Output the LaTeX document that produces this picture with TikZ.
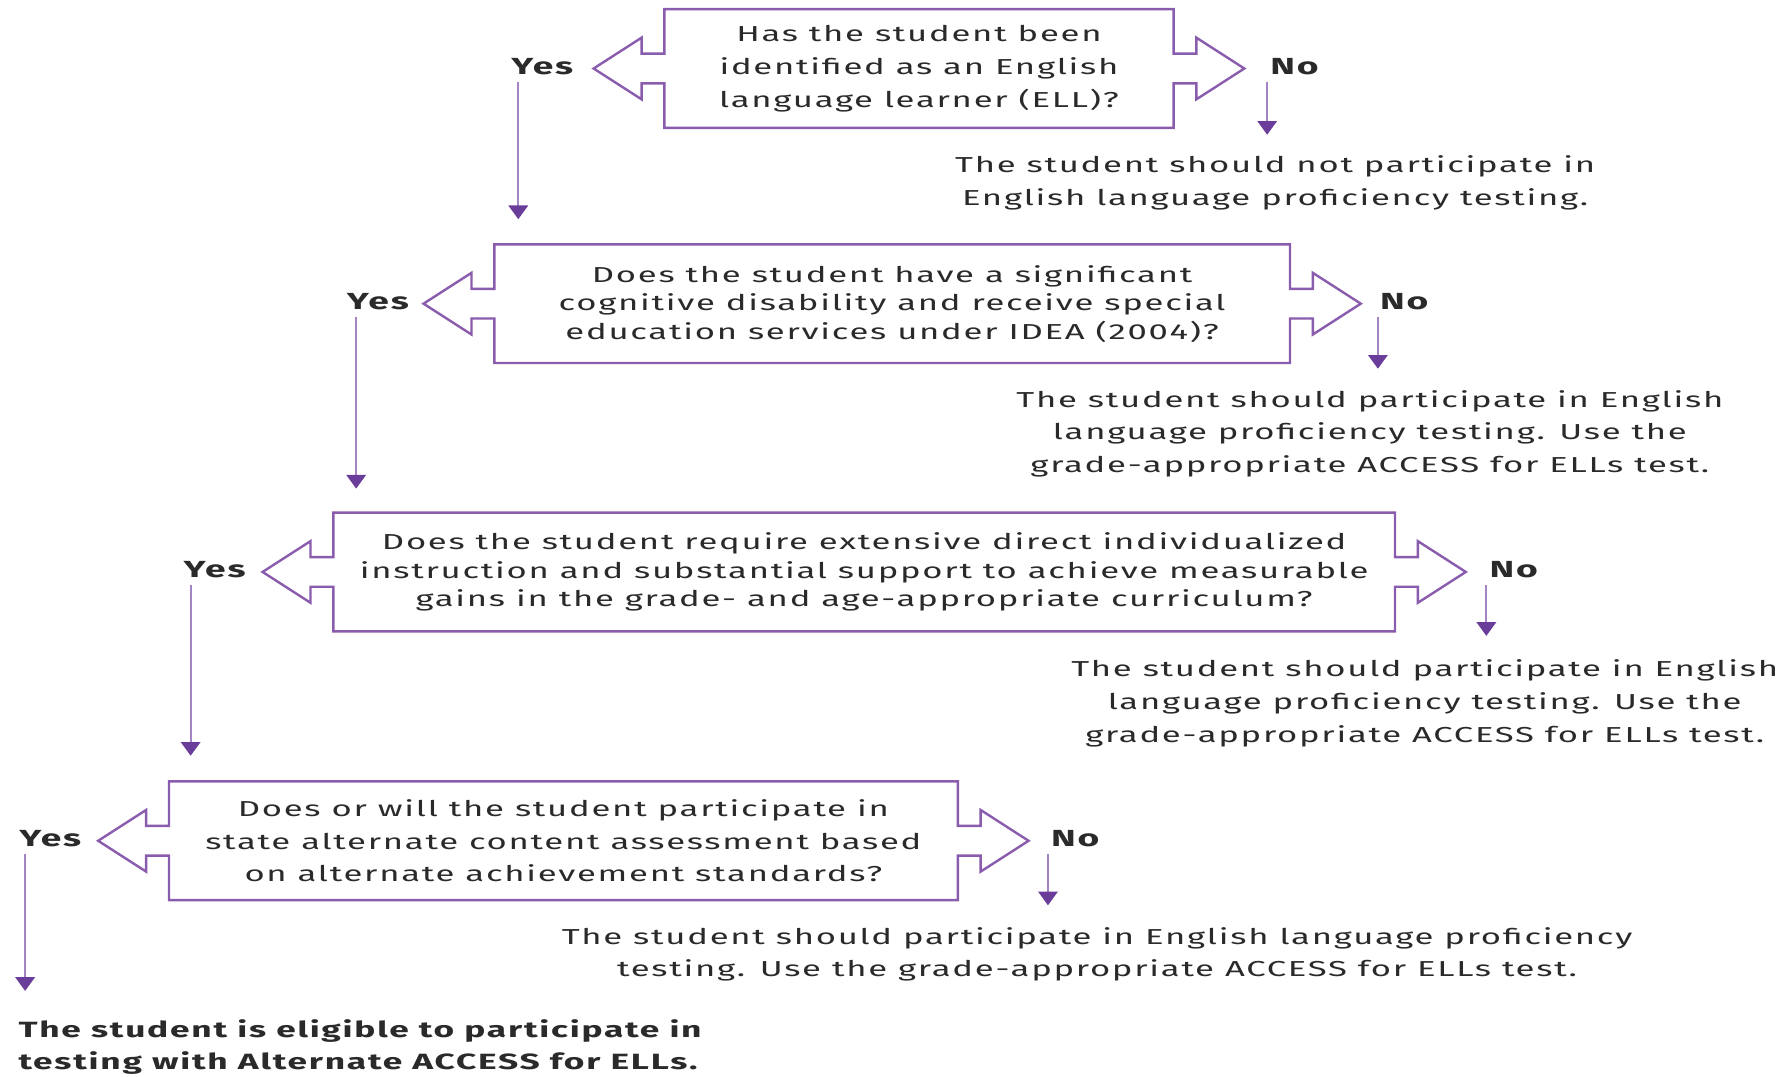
\documentclass[tikz,border=0pt]{standalone}
\usepackage{fontspec}
\setmainfont{Fira Sans}[FakeStretch=1.6,LetterSpace=8]
\usetikzlibrary{arrows.meta}
\definecolor{boxpurple}{HTML}{8A5CAD}
\definecolor{linepurple}{HTML}{A584C4}
\definecolor{headpurple}{HTML}{6A3D9A}
\definecolor{textgray}{HTML}{2A2A2A}
\newcommand{\qoutline}[1]{%
  \draw [qline] (#1.north west) -- (#1.north east) -- ([yshift=2.6mm]#1.east) -- ++(20,0) -- ++(0,14)
    -- ([xshift=12.4mm]#1.east) -- ++(-42,-27) -- ++(0,14) -- ++(-20,0) -- (#1.south east)
    -- (#1.south west) -- ([yshift=-2.6mm]#1.west) -- ++(-20,0) -- ++(0,-14)
    -- ([xshift=-12.4mm]#1.west) -- ++(42,27) -- ++(0,-14) -- ++(20,0) -- cycle;}
\begin{document}
\begin{tikzpicture}[x=0.2mm,y=0.2mm,
                  every node/.style={text=textgray},
                  qbox/.style={inner sep=0pt,outer sep=0pt,minimum height=104*0.2mm,align=center},
                  qline/.style={draw=boxpurple,line width=1.2pt,line join=miter},
                  wide/.style={font=\fontsize{10.8}{16.3}\selectfont},
                  tight/.style={font=\fontsize{10.8}{14.2}\selectfont},
                  ans/.style={font=\fontsize{11.6}{12}\selectfont\bfseries},
                  res/.style={align=center,font=\fontsize{10.8}{16.3}\selectfont},
                  flow/.style={draw=linepurple,line width=1pt,-{Triangle[color=headpurple,width=3.4mm,length=2.4mm]}}]
                  \useasboundingbox (0,0) rectangle (1568,-943);
                  \node [qbox,wide,minimum width=446*0.2mm] (q1) at (805,-60) {Has the student been\\identified as an English\\language learner (ELL)?};
                  \node [qbox,tight,minimum width=697*0.2mm] (q2) at (781.5,-266) {Does the student have a significant\\cognitive disability and receive special\\education services under IDEA (2004)?};
                  \node [qbox,tight,minimum width=930*0.2mm] (q3) at (757,-501) {Does the student require extensive direct individualized\\instruction and substantial support to achieve measurable\\gains in the grade- and age-appropriate curriculum?};
                  \node [qbox,wide,minimum width=691*0.2mm] (q4) at (493.5,-736.5) {Does or will the student participate in\\state alternate content assessment based\\on alternate achievement standards?};
                  \qoutline{q1}
                  \qoutline{q2}
                  \qoutline{q3}
                  \qoutline{q4}
                  \node [ans] (y1) at (475,-58) {Yes};
                  \node [ans] (y2) at (331,-264) {Yes};
                  \node [ans] (y3) at (188,-499) {Yes};
                  \node [ans] (y4) at (44,-735) {Yes};
                  \node [ans] (n1) at (1134,-58) {No};
                  \node [ans] (n2) at (1230,-264) {No};
                  \node [ans] (n3) at (1326,-499) {No};
                  \node [ans] (n4) at (942,-735) {No};
                  \node [res] (r1) at (1117,-160) {The student should not participate in\\English language proficiency testing.};
                  \node [res] (r2) at (1200,-380) {The student should participate in English\\language proficiency testing. Use the\\grade-appropriate ACCESS for ELLs test.};
                  \node [res] (r3) at (1248,-616) {The student should participate in English\\language proficiency testing. Use the\\grade-appropriate ACCESS for ELLs test.};
                  \node [res] (r4) at (961,-836) {The student should participate in English language proficiency\\testing. Use the grade-appropriate ACCESS for ELLs test.};
                  \node [res,align=left,anchor=west,font=\fontsize{11}{16.3}\selectfont\bfseries] (fin) at (10,-917) {The student is eligible to participate in\\testing with Alternate ACCESS for ELLs.};
                  \coordinate (y1e) at (454,-192);
                  \coordinate (y2e) at (312,-428);
                  \coordinate (y3e) at (167,-662);
                  \coordinate (y4e) at (22,-868);
                  \coordinate (n1e) at (1110,-118);
                  \coordinate (n2e) at (1207,-323);
                  \coordinate (n3e) at (1302,-557);
                  \coordinate (n4e) at (918,-793);
                  \draw [flow] (y1.south -| y1e) -- (y1e);
                  \draw [flow] (y2.south -| y2e) -- (y2e);
                  \draw [flow] (y3.south -| y3e) -- (y3e);
                  \draw [flow] (y4.south -| y4e) -- (y4e);
                  \draw [flow] (n1.south -| n1e) -- (n1e);
                  \draw [flow] (n2.south -| n2e) -- (n2e);
                  \draw [flow] (n3.south -| n3e) -- (n3e);
                  \draw [flow] (n4.south -| n4e) -- (n4e);
\end{tikzpicture}
\end{document}
